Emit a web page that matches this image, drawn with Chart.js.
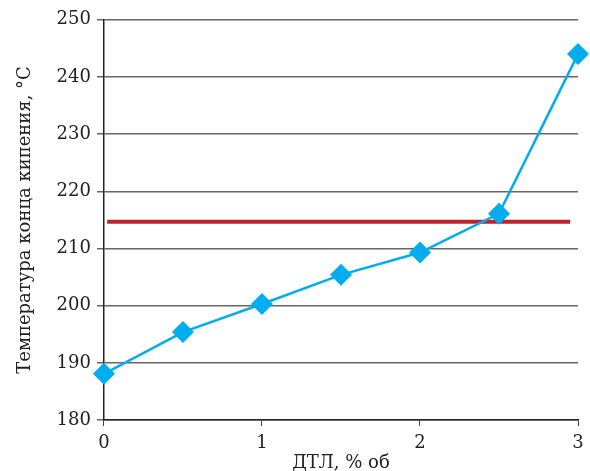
<!DOCTYPE html>
<html>
<head>
<meta charset="utf-8">
<script src="https://cdn.jsdelivr.net/npm/chart.js@4"></script>
<style>
  body { margin: 0; background: #fff; }
  #boilChart { display: block; margin-top: 3px; }
</style>
</head>
<body>
<canvas id="boilChart" width="590" height="468"></canvas>
<script>
// ДТЛ content, % vol, and end boiling temperature
const dtl = [0, 0.5, 1, 1.5, 2, 2.5, 3];
const endTemp = [188.1, 195.4, 200.3, 205.4, 209.3, 216.1, 244];
// red reference level
const limitX = [0.02, 2.95];
const limitTemp = 214.7;
const xTicks = [0, 1, 2, 3];

const serif = 'DejaVu Serif';

const ctx = document.getElementById('boilChart').getContext('2d');
const boilChart = new Chart(ctx, {
    type: 'scatter',
    data: {
        datasets: [{
            data: limitX.map(x => ({ x: x, y: limitTemp })),
            showLine: true,
            borderColor: '#C0222B',
            borderWidth: 4,
            pointRadius: 0,
            order: 2
        }, {
            data: dtl.map((x, i) => ({ x: x, y: endTemp[i] })),
            showLine: true,
            clip: false,
            borderColor: '#00AEEF',
            backgroundColor: '#00AEEF',
            borderWidth: 2.5,
            pointStyle: 'rectRot',
            pointRadius: 11,
            pointBorderWidth: 0,
            order: 1
        }]
    },
    options: {
        responsive: false,
        animation: false,
        layout: { padding: { top: 13, right: 12, left: 15, bottom: 0 } },
        plugins: { legend: { display: false }, tooltip: { enabled: false } },
        scales: {
            x: {
                type: 'linear',
                min: 0,
                max: 3,
                afterBuildTicks: axis => { axis.ticks = xTicks.map(v => ({ value: v })); },
                grid: { drawOnChartArea: false, drawTicks: true, tickLength: 6, color: '#444' },
                border: { color: '#222', width: 1.5 },
                ticks: { color: '#222', font: { family: serif, size: 18 }, padding: 6 },
                title: { display: true, text: 'ДТЛ, % об', color: '#222', font: { family: serif, size: 18, lineHeight: 0.85 }, padding: { top: -4, bottom: 0 } }
            },
            y: {
                min: 180,
                max: 250,
                ticks: { stepSize: 10, color: '#222', font: { family: serif, size: 18 }, padding: 6 },
                grid: { color: '#666', lineWidth: 1.5, tickLength: 7 },
                border: { color: '#222', width: 1.5 },
                title: { display: true, text: 'Температура конца кипения, °C', color: '#222', font: { family: serif, size: 18 }, padding: { top: 0, bottom: 14 } }
            }
        }
    }
});
</script>
</body>
</html>
